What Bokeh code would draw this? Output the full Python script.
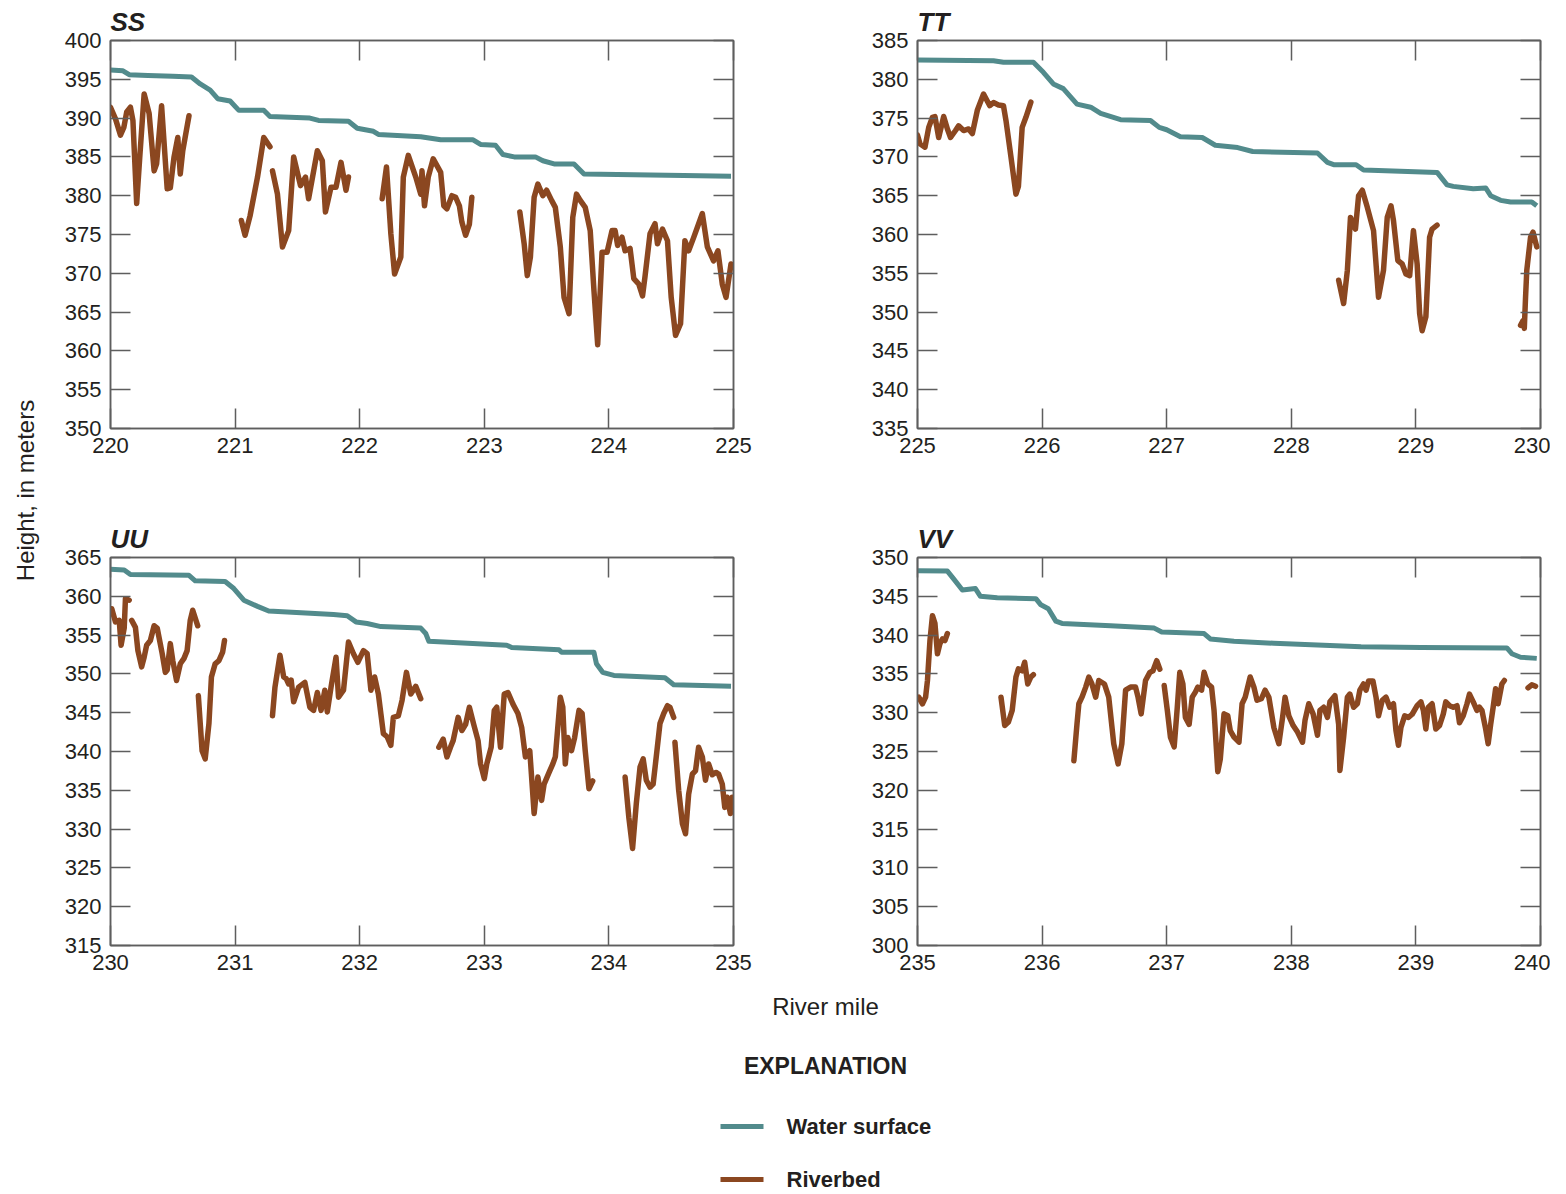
import math
from bokeh.plotting import figure
from bokeh.models import Range1d, LinearAxis, FixedTicker
from bokeh.layouts import row, column
from bokeh.embed import file_html
from bokeh.resources import INLINE
from bokeh.core.properties import value

NaN = float("nan")

# ---------------- data (river mile, height in meters) ----------------
# Panel SS
ss_ws_mile = [220.00, 220.10, 220.15, 220.30, 220.50, 220.65, 220.72, 220.80, 220.86, 220.96, 221.03, 221.23,
              221.28, 221.60, 221.67, 221.91, 221.98, 222.11, 222.15, 222.49, 222.65, 222.91, 222.97, 223.09,
              223.15, 223.24, 223.41, 223.47, 223.56, 223.72, 223.80, 224.20, 224.60, 224.98]
ss_ws_height = [396.2, 396.1, 395.6, 395.5, 395.4, 395.3, 394.4, 393.6, 392.5, 392.2, 391.0, 391.0,
                390.2, 390.0, 389.7, 389.6, 388.7, 388.3, 387.9, 387.6, 387.2, 387.2, 386.6, 386.5,
                385.3, 385.0, 385.0, 384.5, 384.1, 384.1, 382.8, 382.7, 382.6, 382.5]
ss_bed_mile = [220.00, 220.04, 220.08, 220.107, 220.13, 220.16, 220.18, 220.21, 220.235, 220.27, 220.31, 220.35,
               220.37, 220.41, 220.455, 220.48, 220.51, 220.54, 220.56, 220.58, 220.63, NaN,
               221.05, 221.08, 221.12, 221.18, 221.23, 221.28, NaN,
               221.30, 221.34, 221.38, 221.43, 221.47, 221.525, 221.565, 221.59, 221.66, 221.70, 221.725, 221.77,
               221.81, 221.85, 221.89, 221.91, NaN,
               222.18, 222.215, 222.25, 222.28, 222.33, 222.35, 222.39, 222.45, 222.49, 222.50, 222.52, 222.55,
               222.59, 222.65, 222.675, 222.70, 222.74, 222.77, 222.80, 222.82, 222.85, 222.88, 222.90, NaN,
               223.285, 223.32, 223.345, 223.37, 223.40, 223.43, 223.47, 223.50, 223.54, 223.57, 223.61, 223.64,
               223.68, 223.71, 223.74, 223.77, 223.81, 223.85, 223.88, 223.91, 223.945, 223.985, 224.025, 224.05,
               224.07, 224.105, 224.13, 224.17, 224.20, 224.24, 224.27, 224.29, 224.33, 224.37, 224.39, 224.43,
               224.47, 224.50, 224.535, 224.575, 224.61, 224.64, 224.68, 224.75, 224.79, 224.84, 224.875, 224.91,
               224.94, 224.98]
ss_bed_height = [391.4, 389.9, 387.8, 388.8, 390.8, 391.4, 389.7, 379.0, 385.0, 393.1, 390.6, 383.2,
                 384.1, 391.6, 380.9, 381.0, 385.0, 387.5, 382.8, 385.8, 390.3, NaN,
                 376.8, 374.9, 377.4, 382.4, 387.5, 386.3, NaN,
                 383.2, 380.2, 373.4, 375.5, 385.0, 381.3, 382.4, 379.6, 385.8, 384.5, 377.9, 381.1,
                 381.1, 384.3, 380.7, 382.4, NaN,
                 379.6, 383.7, 375.1, 369.9, 372.1, 382.4, 385.2, 382.4, 380.2, 383.2, 378.7, 382.4,
                 384.75, 383.0, 378.7, 378.3, 380.0, 379.8, 378.7, 376.6, 374.9, 376.3, 379.8, NaN,
                 377.9, 373.8, 369.7, 372.1, 379.8, 381.5, 380.0, 380.7, 379.4, 378.5, 373.4, 366.9,
                 364.8, 377.2, 380.2, 379.4, 378.5, 375.5, 367.8, 360.8, 372.7, 372.7, 375.5, 375.5,
                 373.6, 374.65, 372.9, 373.2, 369.3, 368.6, 367.1, 369.6, 375.1, 376.4, 373.8, 375.7,
                 374.2, 366.9, 362.0, 363.5, 374.2, 372.9, 374.6, 377.7, 373.4, 371.6, 372.9, 368.6,
                 366.9, 371.2]

# Panel TT
tt_ws_mile = [225.00, 225.61, 225.69, 225.93, 226.01, 226.09, 226.17, 226.28, 226.39, 226.47, 226.63, 226.87,
              226.94, 227.00, 227.11, 227.285, 227.39, 227.57, 227.69, 228.21, 228.29, 228.34, 228.52, 228.58,
              229.17, 229.25, 229.30, 229.46, 229.56, 229.60, 229.68, 229.76, 229.93, 229.97]
tt_ws_height = [382.5, 382.4, 382.2, 382.2, 380.9, 379.4, 378.8, 376.8, 376.4, 375.6, 374.8, 374.7,
                373.8, 373.5, 372.6, 372.5, 371.5, 371.2, 370.7, 370.5, 369.3, 369.0, 369.0, 368.3,
                368.0, 366.4, 366.2, 365.9, 366.0, 365.0, 364.4, 364.2, 364.2, 363.7]
tt_bed_mile = [225.00, 225.02, 225.06, 225.09, 225.12, 225.14, 225.17, 225.21, 225.24, 225.265, 225.305, 225.33,
               225.37, 225.41, 225.44, 225.48, 225.53, 225.58, 225.61, 225.65, 225.69, 225.71, 225.75, 225.79,
               225.81, 225.84, 225.87, 225.91, NaN,
               228.38, 228.42, 228.45, 228.475, 228.515, 228.54, 228.57, 228.61, 228.66, 228.70, 228.74, 228.77,
               228.80, 228.82, 228.855, 228.89, 228.92, 228.95, 228.98, 229.01, 229.03, 229.05, 229.08, 229.11,
               229.13, 229.17, NaN,
               229.84, 229.86, 229.87, 229.88, 229.89, 229.92, 229.94, 229.97]
tt_bed_height = [372.8, 371.7, 371.25, 373.8, 375.1, 375.2, 372.5, 375.2, 373.6, 372.5, 373.4, 374.0,
                 373.4, 373.6, 373.0, 376.0, 378.1, 376.6, 377.0, 376.7, 376.6, 374.7, 370.0, 365.2,
                 366.2, 373.8, 375.1, 377.05, NaN,
                 354.1, 351.1, 355.4, 362.2, 360.7, 365.0, 365.7, 363.5, 360.5, 351.9, 355.4, 362.2,
                 363.7, 361.8, 356.65, 356.2, 354.9, 354.7, 360.5, 356.2, 349.8, 347.6, 349.4, 359.65,
                 360.7, 361.2, NaN,
                 348.3, 348.9, 347.9, 351.9, 355.4, 359.65, 360.3, 358.4]

# Panel UU
uu_ws_mile = [230.00, 230.11, 230.16, 230.63, 230.68, 230.92, 230.99, 231.07, 231.18, 231.27, 231.79, 231.90,
              231.97, 232.06, 232.17, 232.49, 232.53, 232.555, 233.18, 233.22, 233.60, 233.62, 233.88, 233.90,
              233.95, 234.04, 234.45, 234.52, 234.98]
uu_ws_height = [363.5, 363.4, 362.8, 362.7, 362.0, 361.9, 361.0, 359.5, 358.7, 358.1, 357.65, 357.5,
                356.7, 356.5, 356.1, 355.9, 355.2, 354.2, 353.7, 353.4, 353.1, 352.8, 352.8, 351.3,
                350.2, 349.8, 349.5, 348.6, 348.4]
uu_bed_mile = [230.01, 230.04, 230.07, 230.085, 230.11, 230.12, 230.15, NaN,
               230.17, 230.20, 230.22, 230.25, 230.27, 230.29, 230.32, 230.35, 230.375, 230.415, 230.44, 230.455,
               230.48, 230.50, 230.53, 230.56, 230.59, 230.615, 230.64, 230.66, 230.70, NaN,
               230.705, 230.735, 230.76, 230.79, 230.81, 230.84, 230.87, 230.90, 230.915, NaN,
               231.30, 231.32, 231.36, 231.39, 231.41, 231.43, 231.45, 231.47, 231.51, 231.56, 231.60, 231.63,
               231.66, 231.69, 231.72, 231.74, 231.77, 231.81, 231.83, 231.87, 231.91, 231.95, 231.985, 232.03,
               232.06, 232.09, 232.12, 232.15, 232.19, 232.22, 232.25, 232.27, 232.31, 232.34, 232.375, 232.41,
               232.45, 232.49, NaN,
               232.635, 232.67, 232.70, 232.73, 232.75, 232.79, 232.82, 232.85, 232.88, 232.915, 232.95, 232.97,
               233.00, 233.02, 233.055, 233.08, 233.10, 233.13, 233.16, 233.19, 233.23, 233.27, 233.30, 233.33,
               233.365, 233.40, 233.43, 233.46, 233.48, 233.52, 233.55, 233.57, 233.61, 233.63, 233.65, 233.67,
               233.70, 233.725, 233.76, 233.785, 233.81, 233.84, 233.87, NaN,
               234.13, 234.16, 234.19, 234.22, 234.25, 234.275, 234.30, 234.33, 234.355, 234.38, 234.41, 234.44,
               234.47, 234.49, 234.52, NaN,
               234.53, 234.56, 234.59, 234.615, 234.64, 234.67, 234.695, 234.72, 234.75, 234.775, 234.80, 234.83,
               234.86, 234.88, 234.91, 234.93, 234.95, 234.975, 234.99]
uu_bed_height = [358.4, 356.7, 356.9, 353.7, 355.9, 359.7, 359.5, NaN,
                 356.9, 356.0, 353.0, 350.9, 352.15, 353.7, 354.3, 356.2, 355.9, 352.6, 350.2, 350.5,
                 353.9, 351.7, 349.15, 351.3, 352.0, 353.0, 356.9, 358.2, 356.2, NaN,
                 347.2, 340.1, 339.05, 343.6, 349.6, 351.3, 351.7, 352.8, 354.3, NaN,
                 344.6, 348.3, 352.4, 349.6, 349.4, 348.7, 349.2, 346.4, 348.3, 348.9, 345.7, 345.3,
                 347.6, 345.3, 347.9, 345.1, 348.3, 352.15, 347.0, 347.9, 354.1, 352.6, 351.5, 353.0,
                 352.6, 347.9, 349.6, 347.4, 342.3, 341.9, 340.8, 344.4, 344.6, 346.6, 350.2, 347.4,
                 348.4, 346.8, NaN,
                 340.55, 341.6, 339.3, 340.6, 341.4, 344.4, 342.7, 343.5, 345.7, 343.5, 341.4, 338.4,
                 336.5, 338.4, 340.55, 345.3, 345.7, 340.55, 347.4, 347.6, 346.1, 344.9, 343.1, 339.3,
                 340.1, 332.0, 336.7, 333.7, 335.8, 337.3, 338.4, 339.3, 347.0, 345.7, 338.4, 341.8,
                 340.1, 341.8, 345.3, 344.9, 340.1, 335.2, 336.2, NaN,
                 336.7, 331.5, 327.5, 333.3, 338.0, 339.05, 336.3, 335.4, 335.8, 339.3, 343.6, 344.9,
                 345.9, 345.7, 344.4, NaN,
                 341.2, 335.0, 330.7, 329.4, 334.5, 337.1, 337.5, 340.55, 339.3, 336.3, 338.4, 337.0,
                 337.3, 337.1, 335.8, 332.8, 334.1, 332.0, 334.1]

# Panel VV
vv_ws_mile = [235.00, 235.24, 235.29, 235.36, 235.465, 235.505, 235.64, 235.95, 235.99, 236.05, 236.11, 236.16,
              236.55, 236.90, 236.96, 237.30, 237.35, 237.54, 237.86, 238.56, 239.04, 239.73, 239.77, 239.84,
              239.97]
vv_ws_height = [348.3, 348.25, 347.25, 345.8, 346.0, 345.0, 344.8, 344.7, 343.9, 343.4, 341.8, 341.5,
                341.2, 340.9, 340.4, 340.2, 339.5, 339.2, 338.95, 338.5, 338.4, 338.35, 337.6, 337.15,
                337.0]
vv_bed_mile = [235.01, 235.04, 235.065, 235.08, 235.10, 235.12, 235.14, 235.16, 235.18, 235.20, 235.22, 235.24, NaN,
               235.67, 235.70, 235.73, 235.76, 235.79, 235.81, 235.84, 235.86, 235.885, 235.91, 235.93, NaN,
               236.255, 236.28, 236.295, 236.32, 236.35, 236.375, 236.40, 236.43, 236.455, 236.50, 236.535, 236.575,
               236.61, 236.64, 236.67, 236.71, 236.75, 236.77, 236.795, 236.83, 236.865, 236.89, 236.92, 236.945, NaN,
               236.98, 237.005, 237.03, 237.06, 237.085, 237.105, 237.13, 237.15, 237.18, 237.205, 237.23, 237.25,
               237.28, 237.30, 237.33, 237.36, 237.38, 237.41, 237.43, 237.46, 237.49, 237.51, 237.54, 237.58,
               237.605, 237.63, 237.67, 237.70, 237.725, 237.76, 237.79, 237.82, 237.86, 237.90, 237.93, 237.95,
               237.98, 238.015, 238.05, 238.09, 238.11, 238.14, 238.175, 238.21, 238.23, 238.26, 238.29, 238.31,
               238.35, 238.38, 238.39, 238.42, 238.45, 238.47, 238.50, 238.53, 238.55, 238.58, 238.60, 238.62,
               238.655, 238.68, 238.70, 238.73, 238.76, 238.79, 238.82, 238.84, 238.86, 238.88, 238.91, 238.94,
               238.97, 239.01, 239.04, 239.06, 239.08, 239.10, 239.13, 239.16, 239.19, 239.22, 239.24, 239.27,
               239.30, 239.33, 239.35, 239.38, 239.41, 239.43, 239.46, 239.49, 239.51, 239.53, 239.56, 239.58,
               239.60, 239.62, 239.64, 239.66, 239.69, 239.71, NaN,
               239.90, 239.93, 239.96]
vv_bed_height = [332.0, 331.15, 332.0, 334.15, 339.3, 342.5, 341.5, 337.6, 338.9, 339.5, 339.3, 340.2, NaN,
                 332.0, 328.35, 328.8, 330.3, 334.6, 335.65, 335.4, 336.5, 333.7, 334.6, 334.9, NaN,
                 323.8, 328.55, 331.15, 332.0, 333.3, 334.6, 333.7, 332.0, 334.15, 333.7, 332.0, 326.0,
                 323.4, 326.0, 332.9, 333.3, 333.3, 332.0, 329.85, 334.15, 335.2, 335.4, 336.7, 335.6, NaN,
                 333.5, 330.3, 326.85, 325.6, 330.7, 335.2, 333.7, 329.4, 328.5, 332.0, 332.65, 333.3,
                 332.9, 335.2, 333.7, 333.3, 330.3, 322.4, 324.0, 329.85, 329.6, 327.7, 326.85, 326.2,
                 331.15, 332.0, 334.6, 333.3, 331.6, 331.8, 332.9, 332.0, 328.1, 326.0, 329.4, 332.0,
                 329.6, 328.35, 327.5, 326.2, 329.0, 331.15, 329.85, 327.1, 330.3, 330.7, 329.4, 331.4,
                 332.2, 328.5, 322.55, 326.85, 332.0, 332.4, 330.7, 331.15, 332.9, 333.7, 332.9, 334.1,
                 334.1, 332.0, 329.6, 331.6, 332.0, 330.7, 331.15, 327.7, 325.8, 328.1, 329.6, 329.4,
                 329.8, 330.9, 331.4, 330.3, 327.9, 330.7, 331.15, 327.9, 328.35, 329.85, 331.4, 330.9,
                 330.7, 330.9, 328.7, 329.6, 331.15, 332.4, 331.4, 330.3, 330.7, 330.3, 327.9, 326.0,
                 328.5, 330.7, 333.1, 331.15, 333.7, 334.15, NaN,
                 333.2, 333.6, 333.4]

panel_names = ["SS", "TT", "UU", "VV"]
panel_x_ranges = [(220, 225), (225, 230), (230, 235), (235, 240)]
panel_y_ranges = [(350, 400), (335, 385), (315, 365), (300, 350)]

series_names = ["Water surface", "Riverbed"]

# ---------------- style ----------------
TEAL = "#528b8c"
BROWN = "#8b4720"
GRAY = "#5e5e5e"
INK = "#231f20"
FONT = "Liberation Sans"


def make_panel(name, xr, yr, ws_x, ws_y, bed_x, bed_y, bl, br, bt, bb):
    p = figure(frame_width=623, frame_height=388,
               x_range=Range1d(*xr), y_range=Range1d(*yr),
               output_backend="svg", toolbar_location=None,
               min_border_left=bl, min_border_right=br, min_border_top=bt, min_border_bottom=bb,
               background_fill_color="white", border_fill_color="white",
               outline_line_color=GRAY, outline_line_width=1.5)
    p.grid.visible = False
    xt = list(range(xr[0], xr[1] + 1))
    yt = list(range(yr[0], yr[1] + 1, 5))

    ax_bottom = p.below[0]
    ax_left = p.left[0]
    ax_top = LinearAxis()
    ax_right = LinearAxis()
    p.add_layout(ax_top, "above")
    p.add_layout(ax_right, "right")

    for ax, ticks in ((ax_bottom, xt), (ax_top, xt), (ax_left, yt), (ax_right, yt)):
        ax.ticker = FixedTicker(ticks=ticks)
        ax.major_tick_in = 20
        ax.major_tick_out = 0
        ax.minor_tick_in = 0
        ax.minor_tick_out = 0
        ax.major_tick_line_color = GRAY
        ax.major_tick_line_width = 1.5
        ax.axis_line_color = GRAY
        ax.axis_line_width = 1.5
        ax.major_label_text_font = FONT
        ax.major_label_text_font_size = "22px"
        ax.major_label_text_color = INK
        ax.major_label_standoff = 9
    for ax, ticks in ((ax_top, xt), (ax_right, yt)):
        ax.major_label_overrides = {t: "" for t in ticks}
        ax.major_label_standoff = 0
        ax.major_label_text_font_size = "1px"

    p.line(ws_x, ws_y, line_color=TEAL, line_width=5, line_join="round")
    p.line(bed_x, bed_y, line_color=BROWN, line_width=5.5, line_join="round", line_cap="round")

    p.title.text = name
    p.title.align = "left"
    p.title.text_font = FONT
    p.title.text_font_style = "bold italic"
    p.title.text_font_size = "26px"
    p.title.text_color = INK
    p.title.standoff = 7
    return p


p_ss = make_panel(panel_names[0], panel_x_ranges[0], panel_y_ranges[0], ss_ws_mile, ss_ws_height,
                  ss_bed_mile, ss_bed_height, 62, 20, 40, 40)
p_tt = make_panel(panel_names[1], panel_x_ranges[1], panel_y_ranges[1], tt_ws_mile, tt_ws_height,
                  tt_bed_mile, tt_bed_height, 164, 10, 40, 40)
p_uu = make_panel(panel_names[2], panel_x_ranges[2], panel_y_ranges[2], uu_ws_mile, uu_ws_height,
                  uu_bed_mile, uu_bed_height, 62, 20, 89, 40)
p_vv = make_panel(panel_names[3], panel_x_ranges[3], panel_y_ranges[3], vv_ws_mile, vv_ws_height,
                  vv_bed_mile, vv_bed_height, 164, 10, 89, 40)

TOTAL_H = 1192
LEG_H = TOTAL_H - 985

# y-axis title strip
p_lab = figure(width=48, height=TOTAL_H, x_range=Range1d(0, 48), y_range=Range1d(0, TOTAL_H),
               x_axis_type=None, y_axis_type=None, output_backend="svg", toolbar_location=None,
               min_border=0, outline_line_color=None)
p_lab.grid.visible = False
p_lab.text(x=[25], y=[TOTAL_H - 490], text=["Height, in meters"], angle=math.pi / 2,
           text_font=value(FONT), text_font_size="24px", text_color=INK,
           text_align="center", text_baseline="middle")

# x-axis title + explanation
p_leg = figure(width=1502, height=LEG_H, x_range=Range1d(0, 1502), y_range=Range1d(0, LEG_H),
               x_axis_type=None, y_axis_type=None, output_backend="svg", toolbar_location=None,
               min_border=0, outline_line_color=None)
p_leg.grid.visible = False
p_leg.text(x=[777], y=[TOTAL_H - 1006], text=["River mile"], text_font=value(FONT), text_font_size="24px",
           text_color=INK, text_align="center", text_baseline="middle")
p_leg.text(x=[777], y=[TOTAL_H - 1065], text=["EXPLANATION"], text_font=value(FONT), text_font_style="bold",
           text_font_size="23px", text_color=INK, text_align="center", text_baseline="middle")
p_leg.segment(x0=[672, 672], y0=[TOTAL_H - 1126, TOTAL_H - 1179], x1=[715, 715], y1=[TOTAL_H - 1126, TOTAL_H - 1179],
              line_color=[TEAL, BROWN], line_width=5)
p_leg.text(x=[738, 738], y=[TOTAL_H - 1126, TOTAL_H - 1179], text=series_names, text_font=value(FONT),
           text_font_style="bold", text_font_size="22px", text_color=INK, text_align="left",
           text_baseline="middle")

layout = row(p_lab, column(row(p_ss, p_tt), row(p_uu, p_vv), p_leg))

open("out.html", "w").write(file_html(layout, INLINE))
